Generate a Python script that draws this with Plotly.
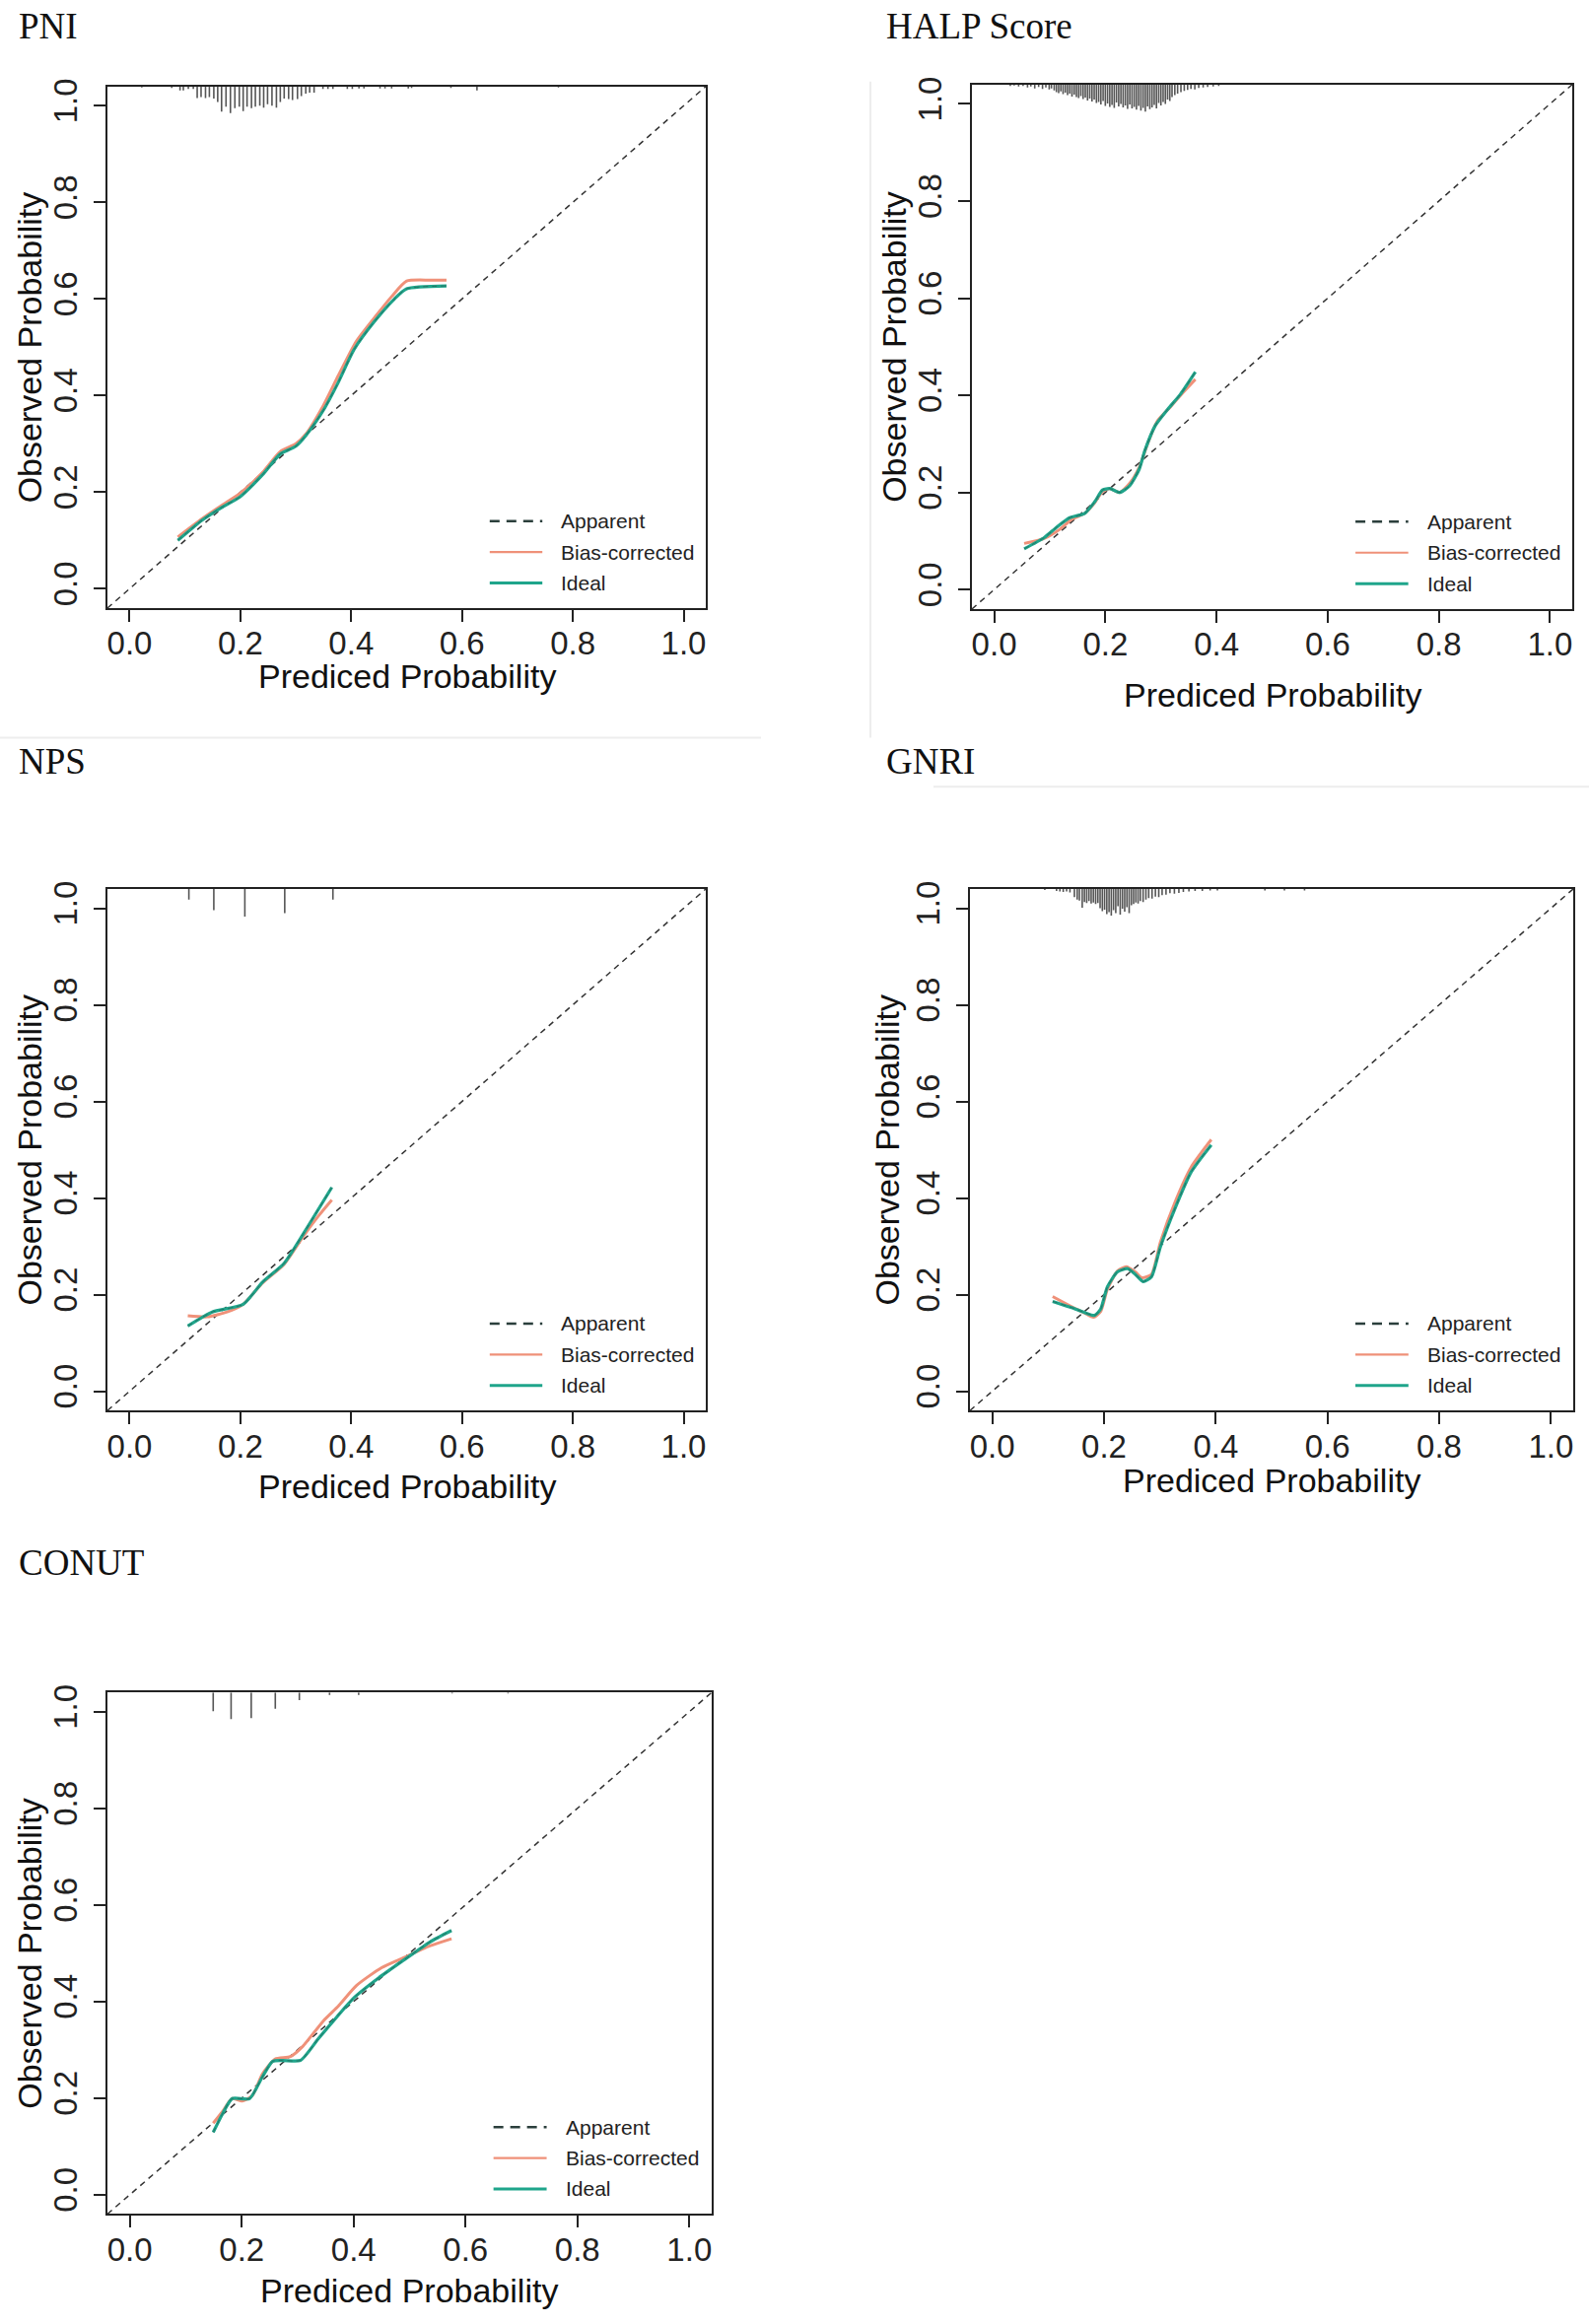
import plotly.graph_objects as go

W, H = 1612, 2358
AX_MIN, AX_MAX = -0.04, 1.04

TEAL = "#1FA58B"
SALMON = "#EF9179"
DARK = "#2B3F3C"
RUG = "#555555"

# ---------------- data ----------------
# PNI
pni_x = [0.087, 0.131, 0.167, 0.199, 0.240, 0.272, 0.300, 0.318, 0.350, 0.377, 0.405, 0.441, 0.478, 0.500, 0.572]
pni_apparent = [0.100, 0.142, 0.169, 0.190, 0.236, 0.279, 0.295, 0.317, 0.370, 0.428, 0.495, 0.552, 0.600, 0.621, 0.627]
pni_bias_x = [0.087, 0.131, 0.167, 0.199, 0.240, 0.272, 0.300, 0.318, 0.350, 0.377, 0.409, 0.446, 0.473, 0.500, 0.542, 0.572]
pni_bias = [0.107, 0.145, 0.173, 0.197, 0.241, 0.284, 0.300, 0.320, 0.380, 0.442, 0.512, 0.567, 0.605, 0.637, 0.639, 0.639]
pni_rug_x = [0.022, 0.076, 0.091, 0.097, 0.106, 0.115, 0.122, 0.129, 0.137, 0.144, 0.152, 0.159, 0.166, 0.174, 0.182,
             0.190, 0.198, 0.205, 0.212, 0.220, 0.227, 0.235, 0.242, 0.249, 0.257, 0.265, 0.272, 0.279, 0.287,
             0.294, 0.303, 0.310, 0.318, 0.325, 0.333, 0.349, 0.358, 0.367, 0.393, 0.402, 0.414, 0.423, 0.452,
             0.461, 0.473, 0.503, 0.509, 0.580, 0.627, 0.774]
pni_rug_h = [0.002, 0.003, 0.008, 0.008, 0.005, 0.005, 0.024, 0.022, 0.024, 0.022, 0.025, 0.032, 0.052, 0.042, 0.055,
             0.045, 0.042, 0.051, 0.042, 0.045, 0.042, 0.040, 0.044, 0.037, 0.040, 0.044, 0.032, 0.025, 0.026,
             0.028, 0.026, 0.020, 0.015, 0.013, 0.013, 0.005, 0.005, 0.005, 0.005, 0.005, 0.004, 0.004, 0.004,
             0.004, 0.004, 0.004, 0.003, 0.003, 0.008, 0.002]

# HALP Score
halp_x = [0.054, 0.090, 0.113, 0.136, 0.163, 0.181, 0.195, 0.208, 0.226, 0.244, 0.261, 0.271, 0.290, 0.312, 0.335, 0.362]
halp_apparent = [0.084, 0.107, 0.129, 0.148, 0.157, 0.181, 0.205, 0.208, 0.200, 0.214, 0.248, 0.286, 0.338, 0.371, 0.402, 0.448]
halp_bias_x = [0.054, 0.090, 0.118, 0.140, 0.163, 0.181, 0.195, 0.208, 0.226, 0.244, 0.261, 0.276, 0.294, 0.317, 0.339, 0.362]
halp_bias = [0.095, 0.105, 0.124, 0.145, 0.157, 0.179, 0.202, 0.208, 0.200, 0.219, 0.252, 0.300, 0.348, 0.376, 0.405, 0.433]
halp_rug_x = [0.029, 0.036, 0.044, 0.052, 0.060, 0.066, 0.073, 0.080, 0.087, 0.093, 0.099, 0.103, 0.108, 0.112,
              0.116, 0.120, 0.124, 0.128, 0.132, 0.136, 0.140, 0.144, 0.148, 0.152, 0.156, 0.160, 0.164, 0.168,
              0.172, 0.176, 0.180, 0.184, 0.188, 0.192, 0.196, 0.200, 0.204, 0.208, 0.212, 0.216, 0.220, 0.224,
              0.228, 0.232, 0.236, 0.240, 0.244, 0.248, 0.252, 0.256, 0.260, 0.264, 0.268, 0.272, 0.276, 0.280,
              0.284, 0.288, 0.292, 0.296, 0.300, 0.304, 0.308, 0.312, 0.316, 0.320, 0.325, 0.330, 0.336, 0.342,
              0.348, 0.354, 0.361, 0.368, 0.376, 0.384, 0.394, 0.404]
halp_rug_h = [0.003, 0.002, 0.004, 0.003, 0.006, 0.004, 0.008, 0.005, 0.009, 0.006, 0.010, 0.008, 0.012, 0.016,
              0.018, 0.014, 0.020, 0.017, 0.022, 0.019, 0.025, 0.021, 0.026, 0.028, 0.024, 0.030, 0.027, 0.033,
              0.029, 0.035, 0.031, 0.038, 0.036, 0.041, 0.034, 0.044, 0.039, 0.046, 0.042, 0.048, 0.037, 0.045,
              0.040, 0.047, 0.043, 0.050, 0.041, 0.049, 0.046, 0.052, 0.044, 0.054, 0.048, 0.056, 0.045, 0.051,
              0.047, 0.042, 0.049, 0.038, 0.043, 0.036, 0.040, 0.031, 0.034, 0.026, 0.022, 0.019, 0.016, 0.013,
              0.011, 0.009, 0.010, 0.007, 0.006, 0.005, 0.004, 0.003]

# NPS
nps_x = [0.105, 0.149, 0.205, 0.240, 0.279, 0.313, 0.365]
nps_apparent = [0.135, 0.164, 0.180, 0.226, 0.265, 0.325, 0.422]
nps_bias_x = [0.105, 0.140, 0.176, 0.205, 0.240, 0.279, 0.313, 0.341, 0.365]
nps_bias = [0.156, 0.154, 0.164, 0.180, 0.224, 0.263, 0.320, 0.363, 0.396]
nps_rug_x = [0.107, 0.152, 0.208, 0.280, 0.367]
nps_rug_h = [0.022, 0.044, 0.057, 0.050, 0.022]

# GNRI
gnri_x = [0.108, 0.142, 0.165, 0.183, 0.194, 0.206, 0.224, 0.242, 0.256, 0.270, 0.285, 0.301, 0.328, 0.356, 0.392]
gnri_apparent = [0.186, 0.173, 0.163, 0.157, 0.170, 0.216, 0.247, 0.254, 0.242, 0.227, 0.237, 0.299, 0.381, 0.454, 0.510]
gnri_bias_x = [0.108, 0.142, 0.165, 0.181, 0.194, 0.206, 0.224, 0.240, 0.256, 0.268, 0.285, 0.301, 0.328, 0.356, 0.392]
gnri_bias = [0.196, 0.175, 0.162, 0.153, 0.165, 0.211, 0.249, 0.258, 0.247, 0.235, 0.242, 0.309, 0.394, 0.464, 0.521]
gnri_rug_x = [0.094, 0.115, 0.121, 0.127, 0.133, 0.139, 0.147, 0.152, 0.156, 0.161, 0.165, 0.169, 0.173, 0.177,
              0.181, 0.185, 0.189, 0.193, 0.197, 0.201, 0.205, 0.209, 0.213, 0.217, 0.221, 0.225, 0.229, 0.233,
              0.237, 0.241, 0.245, 0.249, 0.253, 0.257, 0.261, 0.265, 0.270, 0.275, 0.280, 0.286, 0.292, 0.298,
              0.304, 0.311, 0.318, 0.326, 0.334, 0.342, 0.352, 0.363, 0.376, 0.390, 0.403, 0.488, 0.523, 0.559]
gnri_rug_h = [0.002, 0.004, 0.005, 0.006, 0.005, 0.007, 0.017, 0.022, 0.024, 0.039, 0.027, 0.029, 0.025, 0.030,
              0.028, 0.031, 0.029, 0.040, 0.046, 0.043, 0.052, 0.048, 0.055, 0.044, 0.050, 0.036, 0.053, 0.041,
              0.047, 0.038, 0.050, 0.034, 0.031, 0.028, 0.030, 0.025, 0.027, 0.022, 0.019, 0.020, 0.016, 0.017,
              0.013, 0.012, 0.009, 0.010, 0.008, 0.006, 0.005, 0.004, 0.004, 0.003, 0.003, 0.003, 0.003, 0.003]

# CONUT
conut_x = [0.149, 0.165, 0.183, 0.214, 0.237, 0.255, 0.273, 0.305, 0.337, 0.364, 0.400, 0.445, 0.490, 0.536, 0.575]
conut_apparent = [0.129, 0.166, 0.199, 0.199, 0.244, 0.276, 0.278, 0.278, 0.323, 0.360, 0.407, 0.449, 0.486, 0.523, 0.547]
conut_bias_x = [0.149, 0.165, 0.183, 0.201, 0.219, 0.237, 0.260, 0.287, 0.309, 0.346, 0.373, 0.405, 0.450, 0.490, 0.536, 0.575]
conut_bias = [0.148, 0.171, 0.199, 0.194, 0.205, 0.250, 0.281, 0.286, 0.307, 0.360, 0.391, 0.433, 0.470, 0.491, 0.515, 0.530]
conut_rug_x = [0.149, 0.181, 0.217, 0.260, 0.303, 0.357, 0.409, 0.576, 0.676]
conut_rug_h = [0.039, 0.055, 0.053, 0.034, 0.016, 0.005, 0.005, 0.002, 0.002]

TICKS = [0.0, 0.2, 0.4, 0.6, 0.8, 1.0]
TICK_TEXT = ["0.0", "0.2", "0.4", "0.6", "0.8", "1.0"]
LEGEND_LABELS = ["Apparent", "Bias-corrected", "Ideal"]

# ---------------- layout of the panels (pixels) ----------------
panels = [
    dict(title="PNI", x=pni_x, app=pni_apparent, bx=pni_bias_x, bias=pni_bias, rx=pni_rug_x, rh=pni_rug_h,
         box=(109, 716, 80, 611), tpos=(17, 19), xtitle_y=680, ytitle_x=30),
    dict(title="HALP Score", x=halp_x, app=halp_apparent, bx=halp_bias_x, bias=halp_bias, rx=halp_rug_x, rh=halp_rug_h,
         box=(986, 1595, 78, 612), tpos=(897, 19), xtitle_y=699, ytitle_x=907),
    dict(title="NPS", x=nps_x, app=nps_apparent, bx=nps_bias_x, bias=nps_bias, rx=nps_rug_x, rh=nps_rug_h,
         box=(109, 716, 897, 1428), tpos=(17, 767), xtitle_y=1505, ytitle_x=30),
    dict(title="GNRI", x=gnri_x, app=gnri_apparent, bx=gnri_bias_x, bias=gnri_bias, rx=gnri_rug_x, rh=gnri_rug_h,
         box=(984, 1596, 897, 1428), tpos=(897, 767), xtitle_y=1499, ytitle_x=900),
    dict(title="CONUT", x=conut_x, app=conut_apparent, bx=conut_bias_x, bias=conut_bias, rx=conut_rug_x, rh=conut_rug_h,
         box=(109, 722, 1715, 2246), tpos=(17, 1583), xtitle_y=2324, ytitle_x=30),
]

fig = go.Figure()
annotations = []
shapes = []

SANS = "Liberation Sans, Arial, sans-serif"
SERIF = "Liberation Serif, Times New Roman, serif"

for i, p in enumerate(panels):
    n = "" if i == 0 else str(i + 1)
    xa, ya = "x" + n, "y" + n
    left, right, top, bottom = p["box"]
    axis_common = dict(range=[AX_MIN, AX_MAX], tickvals=TICKS, ticktext=TICK_TEXT, ticks="outside",
                       ticklen=12, tickwidth=1.5, tickcolor="#222", showline=True, linecolor="#222",
                       linewidth=1.5, mirror=True, showgrid=False, zeroline=False,
                       tickfont=dict(family=SANS, size=33, color="#222"))
    fig.update_layout(**{
        "xaxis" + n: dict(domain=[left / W, right / W], anchor=ya, ticklabelstandoff=-6, **axis_common),
        "yaxis" + n: dict(domain=[1 - bottom / H, 1 - top / H], anchor=xa, tickangle=-90,
                          ticklabelstandoff=4, **axis_common),
    })

    # diagonal reference
    fig.add_trace(go.Scatter(x=[AX_MIN, AX_MAX], y=[AX_MIN, AX_MAX], mode="lines", xaxis=xa, yaxis=ya,
                             line=dict(color="#333", width=1.5, dash="6px,5px"), showlegend=False,
                             hoverinfo="skip"))
    # rug (histogram of predictions) hanging from the top
    rx, ry = [], []
    for xv, hv in zip(p["rx"], p["rh"]):
        rx += [xv, xv, None]
        ry += [AX_MAX, AX_MAX - hv, None]
    fig.add_trace(go.Scatter(x=rx, y=ry, mode="lines", xaxis=xa, yaxis=ya,
                             line=dict(color=RUG, width=1.6), showlegend=False, hoverinfo="skip"))
    # bias-corrected
    fig.add_trace(go.Scatter(x=p["bx"], y=p["bias"], mode="lines", xaxis=xa, yaxis=ya, name="Bias-corrected",
                             line=dict(color=SALMON, width=3, shape="spline", smoothing=0.6), showlegend=False))
    # ideal / apparent
    fig.add_trace(go.Scatter(x=p["x"], y=p["app"], mode="lines", xaxis=xa, yaxis=ya, name="Ideal",
                             line=dict(color=TEAL, width=3.2, shape="spline", smoothing=0.6), showlegend=False))
    fig.add_trace(go.Scatter(x=p["x"], y=p["app"], mode="lines", xaxis=xa, yaxis=ya, name="Apparent",
                             line=dict(color=DARK, width=1.0, dash="5px,4px", shape="spline", smoothing=0.6),
                             showlegend=False, opacity=0.5))

    # manual legend (R style) in data coordinates
    leg_y = [0.14, 0.076, 0.012]
    leg_styles = [dict(color=DARK, width=2.5, dash="10px,7px"), dict(color=SALMON, width=2.2),
                  dict(color=TEAL, width=3)]
    for ly, lab, st in zip(leg_y, LEGEND_LABELS, leg_styles):
        shapes.append(dict(type="line", xref=xa, yref=ya, x0=0.65, x1=0.745, y0=ly, y1=ly, line=st))
        annotations.append(dict(text=lab, xref=xa, yref=ya, x=0.775, y=ly, xanchor="left", yanchor="middle",
                                showarrow=False, font=dict(family=SANS, size=21, color="#222")))

    # panel title
    annotations.append(dict(text=p["title"], xref="paper", yref="paper", x=p["tpos"][0] / W,
                            y=1 - p["tpos"][1] / H, xanchor="left", yanchor="middle", showarrow=False,
                            font=dict(family=SERIF, size=37, color="#111")))
    # axis titles
    annotations.append(dict(text="Prediced Probability", xref="paper", yref="paper",
                            x=(left + right) / 2 / W, y=1 - p["xtitle_y"] / H, xanchor="center",
                            yanchor="middle", showarrow=False, font=dict(family=SANS, size=34, color="#111")))
    annotations.append(dict(text="Observed Probability", xref="paper", yref="paper",
                            x=p["ytitle_x"] / W, y=1 - (top + bottom) / 2 / H, xanchor="center",
                            yanchor="middle", textangle=-90, showarrow=False,
                            font=dict(family=SANS, size=34, color="#111")))

# faint panel separator lines
SEP = "#EDEDED"
shapes += [
    dict(type="line", xref="paper", yref="paper", x0=0, x1=772 / W, y0=1 - 743 / H, y1=1 - 743 / H,
         line=dict(color=SEP, width=2)),
    dict(type="line", xref="paper", yref="paper", x0=883 / W, x1=883 / W, y0=1 - 75 / H, y1=1 - 743 / H,
         line=dict(color=SEP, width=2)),
    dict(type="line", xref="paper", yref="paper", x0=947 / W, x1=1, y0=1 - 793 / H, y1=1 - 793 / H,
         line=dict(color=SEP, width=2)),
]

fig.update_layout(width=W, height=H, margin=dict(l=0, r=0, t=0, b=0), paper_bgcolor="white",
                  plot_bgcolor="white", showlegend=False, annotations=annotations, shapes=shapes)

fig.write_html("out.html", config={"displayModeBar": False},
               post_script="document.body.style.margin='0px';document.body.style.padding='0px';"
                           "document.documentElement.style.overflow='hidden';")
